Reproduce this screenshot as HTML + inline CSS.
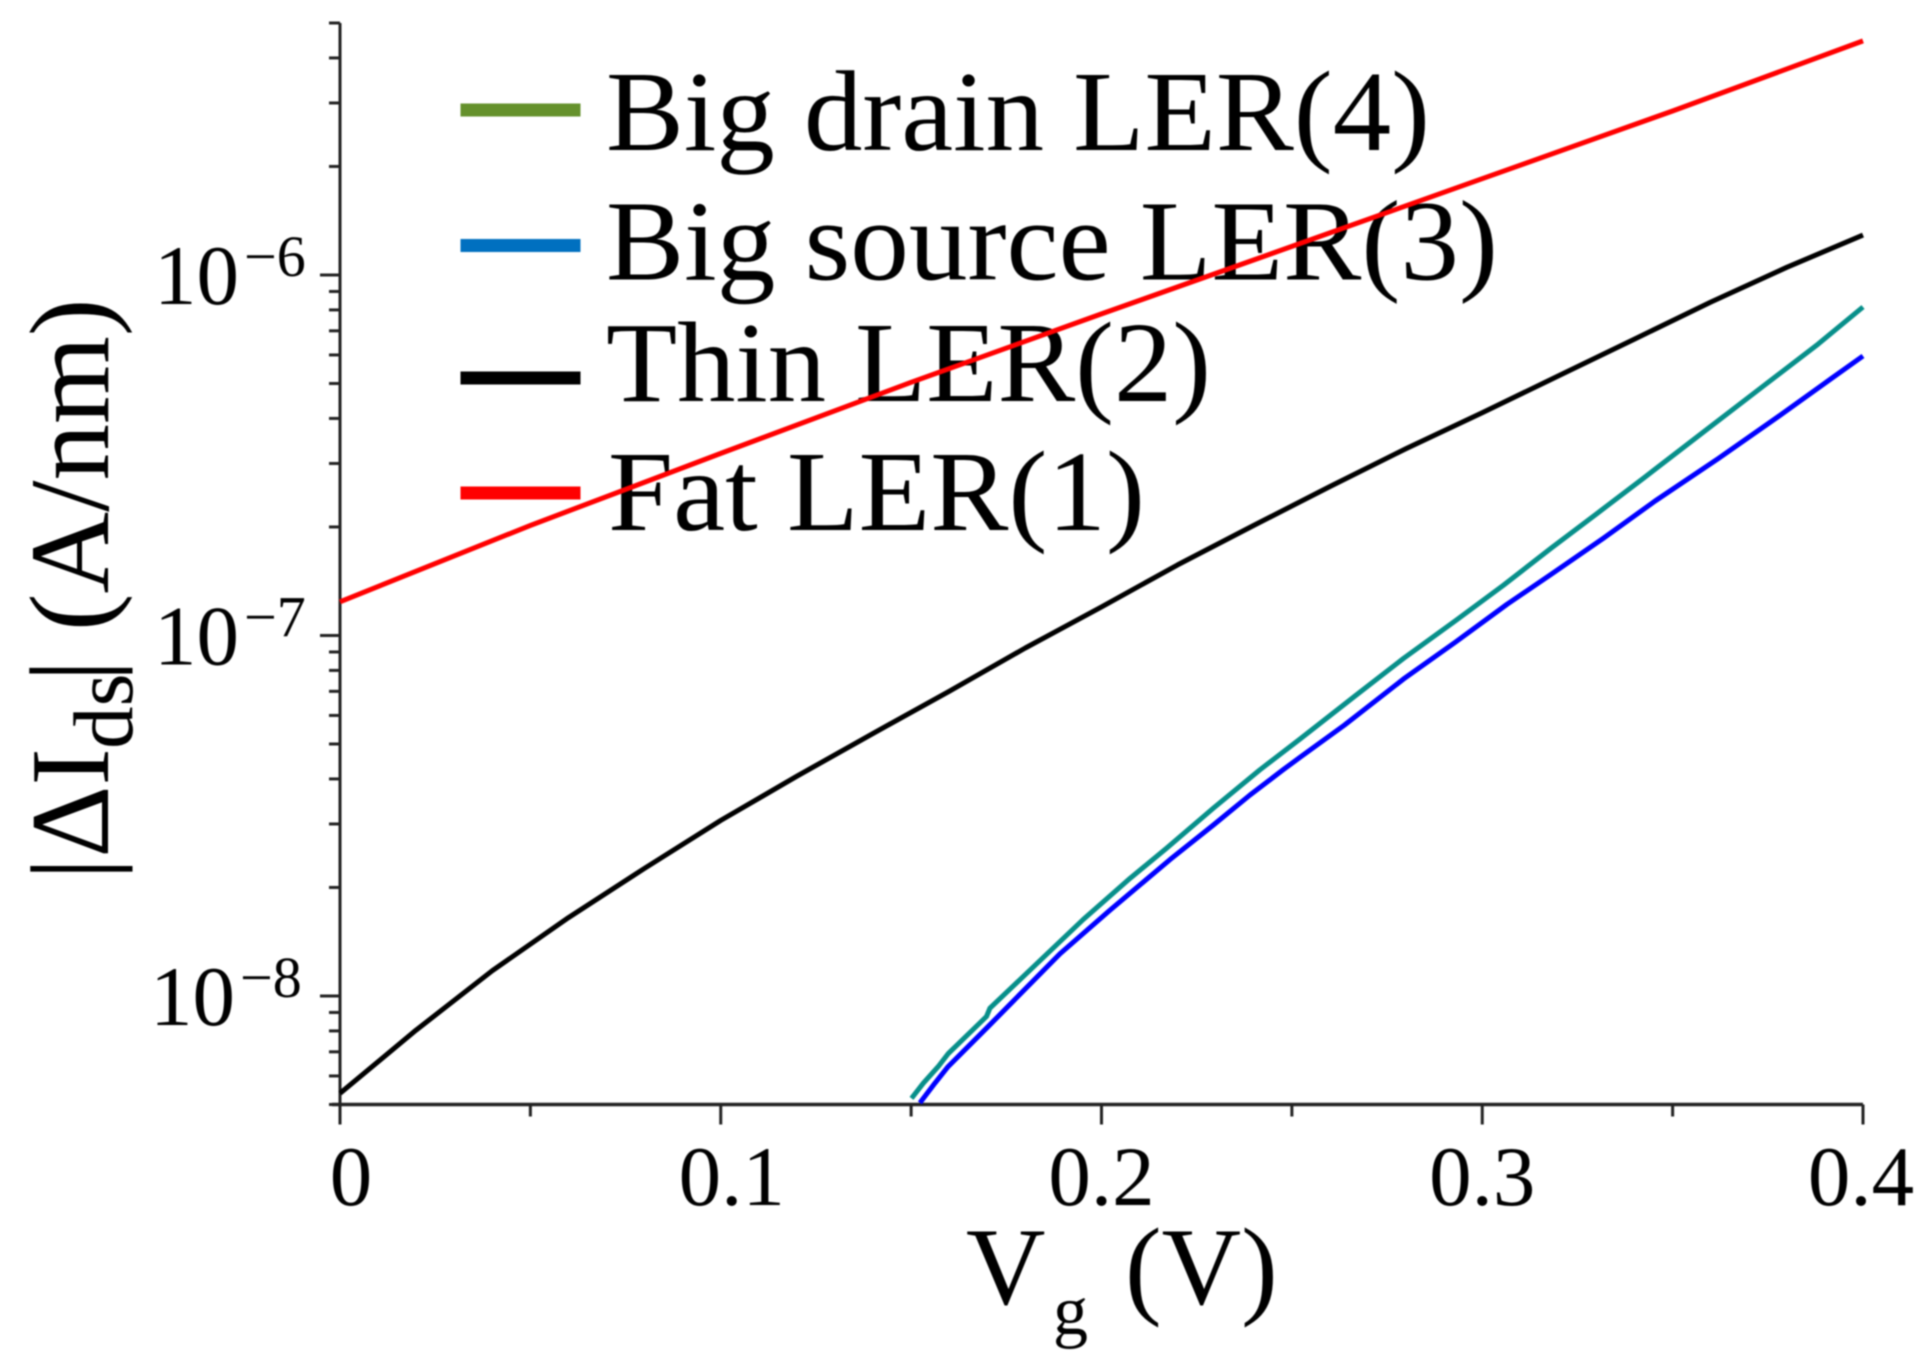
<!DOCTYPE html>
<html lang="en">
<head>
<meta charset="utf-8">
<title>Delta Ids vs Vg</title>
<style>
html,body{margin:0;padding:0;background:#fff;}
body{width:1930px;height:1368px;overflow:hidden;}
svg{display:block;filter:blur(0.7px);}
text{font-family:"Liberation Serif","DejaVu Serif",serif;fill:#000;}
</style>
</head>
<body>
<svg id="chart" xmlns="http://www.w3.org/2000/svg" width="1930" height="1368" viewBox="0 0 1930 1368">
  <g id="legend-layer">
    <rect x="460.5" y="103.5" width="120" height="13" fill="#65912c"/>
    <text x="606" y="150" font-size="114" textLength="824" lengthAdjust="spacingAndGlyphs">Big drain LER(4)</text>
    <rect x="460.5" y="239" width="120" height="13" fill="#0070c0"/>
    <text x="606" y="279.5" font-size="114" textLength="892" lengthAdjust="spacingAndGlyphs">Big source LER(3)</text>
    <rect x="460.5" y="371.5" width="120" height="13" fill="#000000"/>
    <text x="606" y="401" font-size="114" textLength="605" lengthAdjust="spacingAndGlyphs">Thin LER(2)</text>
    <rect x="460.5" y="486.5" width="120" height="13" fill="#ff0000"/>
    <text x="608" y="530" font-size="114" textLength="537" lengthAdjust="spacingAndGlyphs">Fat LER(1)</text>
  </g>
  <g id="axes-layer"></g>
  <g id="series-layer"></g>
  <g>
    <text transform="translate(108,880) rotate(-90)" font-size="112">|ΔI</text>
    <text transform="translate(132,749) rotate(-90)" font-size="85">ds</text>
    <text transform="translate(108,682) rotate(-90)" font-size="113">| (A/nm)</text>
  </g>
  <g>
    <text x="966" y="1304" font-size="110">V</text>
    <text x="1053" y="1334" font-size="70">g</text>
    <text x="1125" y="1304" font-size="110">(V)</text>
  </g>
</svg>
<script>
const xMajorTicks = [0, 0.1, 0.2, 0.3, 0.4];
const xMajorLabels = ["0", "0.1", "0.2", "0.3", "0.4"];
const xMinorTicks = [0.05, 0.15, 0.25, 0.35];
const yMajorTicks = [1e-6, 1e-7, 1e-8];
const yMajorBase = ["10", "10", "10"];
const yMajorExponents = ["−6", "−7", "−8"];
const yMinorTicks = [5e-6, 4e-6, 3e-6, 2e-6, 9e-7, 8e-7, 7e-7, 6e-7, 5e-7, 4e-7, 3e-7, 2e-7, 9e-8, 8e-8, 7e-8, 6e-8, 5e-8, 4e-8, 3e-8, 2e-8, 9e-9, 8e-9, 7e-9, 6e-9, 5e-9];

const vgFat = [0, 0.05, 0.1, 0.15, 0.2, 0.25, 0.3, 0.35, 0.4];
const idsFat = [1.24e-7, 2.02e-7, 3.20e-7, 5.04e-7, 7.80e-7, 1.20e-6, 1.85e-6, 2.85e-6, 4.46e-6];
const vgThin = [0, 0.02, 0.04, 0.06, 0.08, 0.1, 0.12, 0.14, 0.16, 0.18, 0.2, 0.22, 0.24, 0.26, 0.28, 0.3, 0.32, 0.34, 0.36, 0.38, 0.4];
const idsThin = [5.37e-9, 8.04e-9, 1.175e-8, 1.65e-8, 2.26e-8, 3.07e-8, 4.07e-8, 5.35e-8, 7.0e-8, 9.23e-8, 1.20e-7, 1.57e-7, 2.02e-7, 2.59e-7, 3.30e-7, 4.15e-7, 5.25e-7, 6.64e-7, 8.41e-7, 1.05e-6, 1.29e-6];
const vgBigSource = [0.1523, 0.1563, 0.1597, 0.1702, 0.1891, 0.2022, 0.218, 0.2294, 0.239, 0.2477, 0.2521, 0.2638, 0.2793, 0.293, 0.3065, 0.3182, 0.3318, 0.3454, 0.3619, 0.3785, 0.392, 0.4];
const idsBigSource = [5.05e-9, 5.74e-9, 6.37e-9, 8.22e-9, 1.31e-8, 1.73e-8, 2.39e-8, 2.98e-8, 3.61e-8, 4.24e-8, 4.59e-8, 5.64e-8, 7.57e-8, 9.59e-8, 1.22e-7, 1.48e-7, 1.86e-7, 2.36e-7, 3.09e-7, 4.10e-7, 5.19e-7, 5.96e-7];
const vgBigDrain = [0.1501, 0.1532, 0.1571, 0.1598, 0.1698, 0.1707, 0.1952, 0.2075, 0.2171, 0.2294, 0.2416, 0.2521, 0.2667, 0.2793, 0.293, 0.3056, 0.3182, 0.3299, 0.3425, 0.359, 0.3736, 0.3882, 0.4];
const idsBigDrain = [5.20e-9, 5.73e-9, 6.37e-9, 6.93e-9, 8.77e-9, 9.25e-9, 1.63e-8, 2.12e-8, 2.57e-8, 3.32e-8, 4.24e-8, 5.16e-8, 6.81e-8, 8.63e-8, 1.10e-7, 1.38e-7, 1.75e-7, 2.17e-7, 2.74e-7, 3.73e-7, 4.90e-7, 6.43e-7, 8.15e-7];

const NS = "http://www.w3.org/2000/svg";
const plotLeft = 340, plotRight = 1863, plotTop = 23, plotBottom = 1104.5;
const xMin = 0, xMax = 0.4, yMin = 5e-9, yMax = 5e-6;

function xScale(v) {
  return plotLeft + (v - xMin) / (xMax - xMin) * (plotRight - plotLeft);
}
function yScale(v) {
  return plotBottom - (Math.log10(v) - Math.log10(yMin)) / (Math.log10(yMax) - Math.log10(yMin)) * (plotBottom - plotTop);
}
function make(tag, attrs, parent) {
  const el = document.createElementNS(NS, tag);
  Object.keys(attrs).forEach(function (k) { el.setAttribute(k, attrs[k]); });
  parent.appendChild(el);
  return el;
}

const axes = document.getElementById("axes-layer");
const seriesLayer = document.getElementById("series-layer");

const yAxisLine = make("line", {x1: plotLeft, x2: plotLeft, y1: plotTop, y2: plotBottom, stroke: "#222", "stroke-width": 3}, axes);


const xAxisLine = make("line", {x1: plotLeft - 8, x2: plotRight, y1: plotBottom, y2: plotBottom, stroke: "#222", "stroke-width": 3.5}, axes);



xMajorTicks.forEach(function (v, i) {
  const x = xScale(v);
  const tick = make("line", {x1: x, x2: x, y1: plotBottom, y2: plotBottom + 20, stroke: "#222", "stroke-width": 3}, axes);
  
  
  const nudge = i < 2 ? 11 : (i === 4 ? -2 : 0);
  const label = make("text", {x: x + nudge, y: 1205, "font-size": 85, "text-anchor": "middle"}, axes);
  label.textContent = xMajorLabels[i];
  
  
});
xMinorTicks.forEach(function (v) {
  const x = xScale(v);
  const tick = make("line", {x1: x, x2: x, y1: plotBottom, y2: plotBottom + 12, stroke: "#222", "stroke-width": 3}, axes);
  
  
});
yMajorTicks.forEach(function (v, i) {
  const y = yScale(v);
  const tick = make("line", {x1: plotLeft - 20, x2: plotLeft, y1: y, y2: y, stroke: "#222", "stroke-width": 3}, axes);
  
  
  const nudge = i === 2 ? -4 : 0;
  const base = make("text", {x: 239 + nudge, y: y + 29, "font-size": 85, "text-anchor": "end"}, axes);
  base.textContent = yMajorBase[i];
  
  
  const exp = make("text", {x: 244 + nudge, y: y + 1, "font-size": 58}, axes);
  exp.textContent = yMajorExponents[i];
  
  
});
yMinorTicks.forEach(function (v) {
  const y = yScale(v);
  const tick = make("line", {x1: plotLeft - 11, x2: plotLeft, y1: y, y2: y, stroke: "#222", "stroke-width": 3}, axes);
  
  
});

function drawSeries(xs, ys, colour) {
  const pts = xs.map(function (v, i) { return xScale(v).toFixed(1) + "," + yScale(ys[i]).toFixed(1); }).join(" ");
  return make("polyline", {points: pts, fill: "none", stroke: colour, "stroke-width": 5, "stroke-linejoin": "round"}, seriesLayer);
}
const lineBigSource = drawSeries(vgBigSource, idsBigSource, "#0000ff");


const lineBigDrain = drawSeries(vgBigDrain, idsBigDrain, "#078f8a");


const lineThin = drawSeries(vgThin, idsThin, "#000000");


const lineFat = drawSeries(vgFat, idsFat, "#ff0000");


</script>
</body>
</html>
